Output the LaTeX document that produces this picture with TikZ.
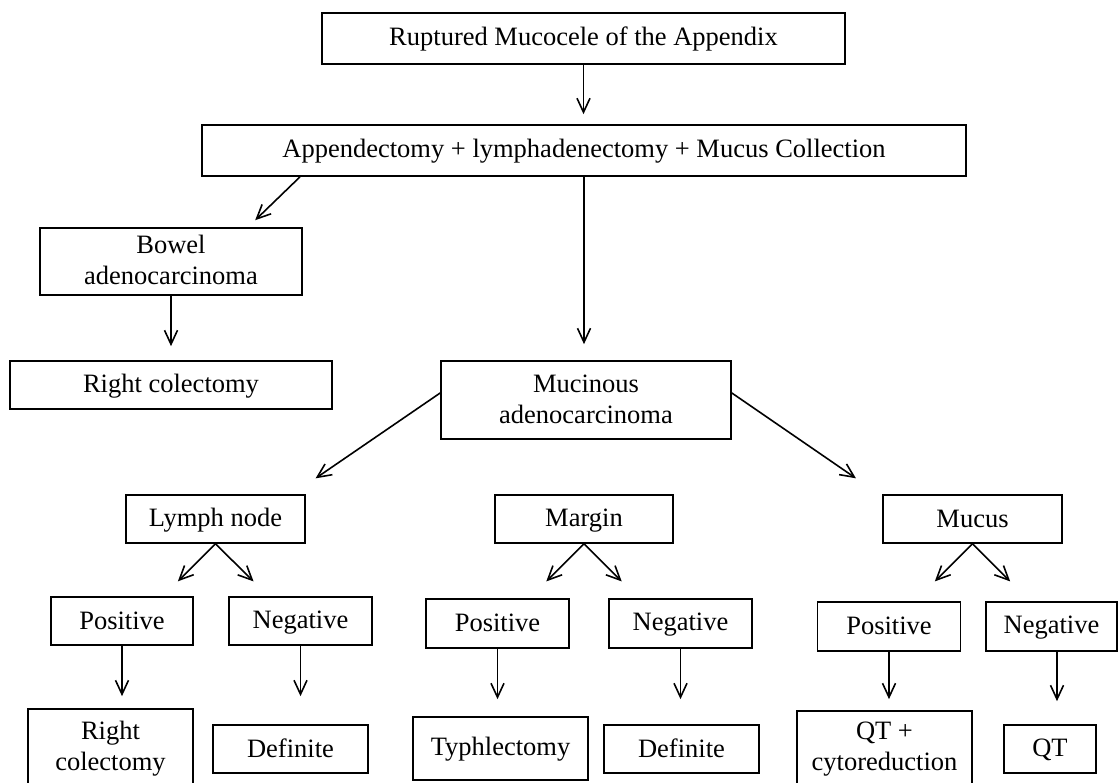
\documentclass[tikz,border=0pt]{standalone}
\usepackage{fontspec}
\setmainfont{Liberation Serif}
\usetikzlibrary{arrows.meta}
\newcommand{\ls}{\rule[-4pt]{0pt}{24pt}}
\begin{document}
\begin{tikzpicture}[x=1pt,y=-1pt,
  box/.style={draw, line width=1.7pt, rectangle, inner sep=0pt, align=center,
    font=\fontsize{26.5}{31}\selectfont},
  arr/.style={line width=1.6pt, -{Straight Barb[length=14pt,width=13pt,line width=1.6pt]}},
]
\path[use as bounding box, clip] (0,0) rectangle (1119,783);

\node[box, minimum width=523pt, minimum height=51pt] (top) at (583.5,38.5) {\ls Ruptured Mucocele of the Appendix};
\node[box, minimum width=764pt, minimum height=51pt] (app) at (584,150.5) {\ls Appendectomy + lymphadenectomy + Mucus Collection};
\node[box, minimum width=262pt, minimum height=67pt] (bowel) at (171,261.5) {\ls Bowel\\\ls adenocarcinoma};
\node[box, minimum width=322pt, minimum height=48pt] (rc1) at (171,385) {\ls Right colectomy};
\node[box, minimum width=290pt, minimum height=78pt] (muc) at (586,400) {\ls Mucinous\\\ls adenocarcinoma};

\node[box, minimum width=179pt, minimum height=48pt] (ln) at (215.5,519) {\ls Lymph node};
\node[box, minimum width=178pt, minimum height=48pt] (mar) at (584,519) {\ls Margin};
\node[box, minimum width=179pt, minimum height=48pt] (mucus) at (972.5,519) {\ls Mucus};

\node[box, minimum width=142pt, minimum height=48pt] (lnpos) at (122,621) {\ls Positive};
\node[box, minimum width=143pt, minimum height=48pt] (lnneg) at (300.5,621) {\ls Negative};
\node[box, minimum width=143pt, minimum height=49pt] (marpos) at (497.5,623.5) {\ls Positive};
\node[box, minimum width=143pt, minimum height=49pt] (marneg) at (680.5,623.5) {\ls Negative};
\node[box, minimum width=143pt, minimum height=49pt] (mpos) at (889,626.5) {\ls Positive};
\node[box, minimum width=131pt, minimum height=49pt] (mneg) at (1051.5,626.5) {\ls Negative};

\node[box, minimum width=165pt, minimum height=77pt] (rc2) at (110.5,747.5) {\ls Right\\\ls colectomy};
\node[box, minimum width=155pt, minimum height=48pt] (def1) at (290.5,749) {\ls Definite};
\node[box, minimum width=175pt, minimum height=63pt] (typh) at (500.5,748.5) {\ls Typhlectomy};
\node[box, minimum width=155pt, minimum height=48pt] (def2) at (681.5,749) {\ls Definite};
\node[box, minimum width=175pt, minimum height=73pt] (qtc) at (884.5,747.5) {\ls QT +\\\ls cytoreduction};
\node[box, minimum width=92pt, minimum height=48pt] (qt) at (1050,749) {\ls QT};

\draw[arr, shorten >=10pt] (top.south) -- (top.south |- app.north);
\draw[arr, shorten >=16pt] (app.south) -- (app.south |- muc.north);
\draw[arr, shorten >=10pt] ([xshift=-284pt]app.south) -- ([xshift=77pt]bowel.north);
\draw[arr, shorten >=14pt] (bowel.south) -- (rc1.north);
\draw[arr, shorten >=28pt] ([yshift=7pt]muc.west) -- ([xshift=77pt]ln.north);
\draw[arr, shorten >=28pt] ([yshift=7pt]muc.east) -- ([xshift=-93.5pt]mucus.north);

\draw[arr, shorten >=21pt] (ln.south) -- ([xshift=41pt]lnpos.north);
\draw[arr, shorten >=21pt] (ln.south) -- ([xshift=-32pt]lnneg.north);
\draw[arr, shorten >=23.7pt] (mar.south) -- ([xshift=32pt]marpos.north);
\draw[arr, shorten >=23.7pt] (mar.south) -- ([xshift=-42pt]marneg.north);
\draw[arr, shorten >=28pt] (mucus.south) -- ([xshift=26pt]mpos.north);
\draw[arr, shorten >=28pt] (mucus.south) -- ([xshift=-21.5pt]mneg.north);

\draw[arr, shorten >=12pt] (lnpos.south) -- (lnpos.south |- rc2.north);
\draw[arr, shorten >=28pt] (lnneg.south) -- (lnneg.south |- def1.north);
\draw[arr, shorten >=17pt] (marpos.south) -- (marpos.south |- typh.north);
\draw[arr, shorten >=25pt] (marneg.south) -- (marneg.south |- def2.north);
\draw[arr, shorten >=11pt] (mpos.south) -- (mpos.south |- qtc.north);
\draw[arr, shorten >=23pt] ([xshift=5.5pt]mneg.south) -- ([xshift=5.5pt]mneg.south |- qt.north);
\end{tikzpicture}
\end{document}
